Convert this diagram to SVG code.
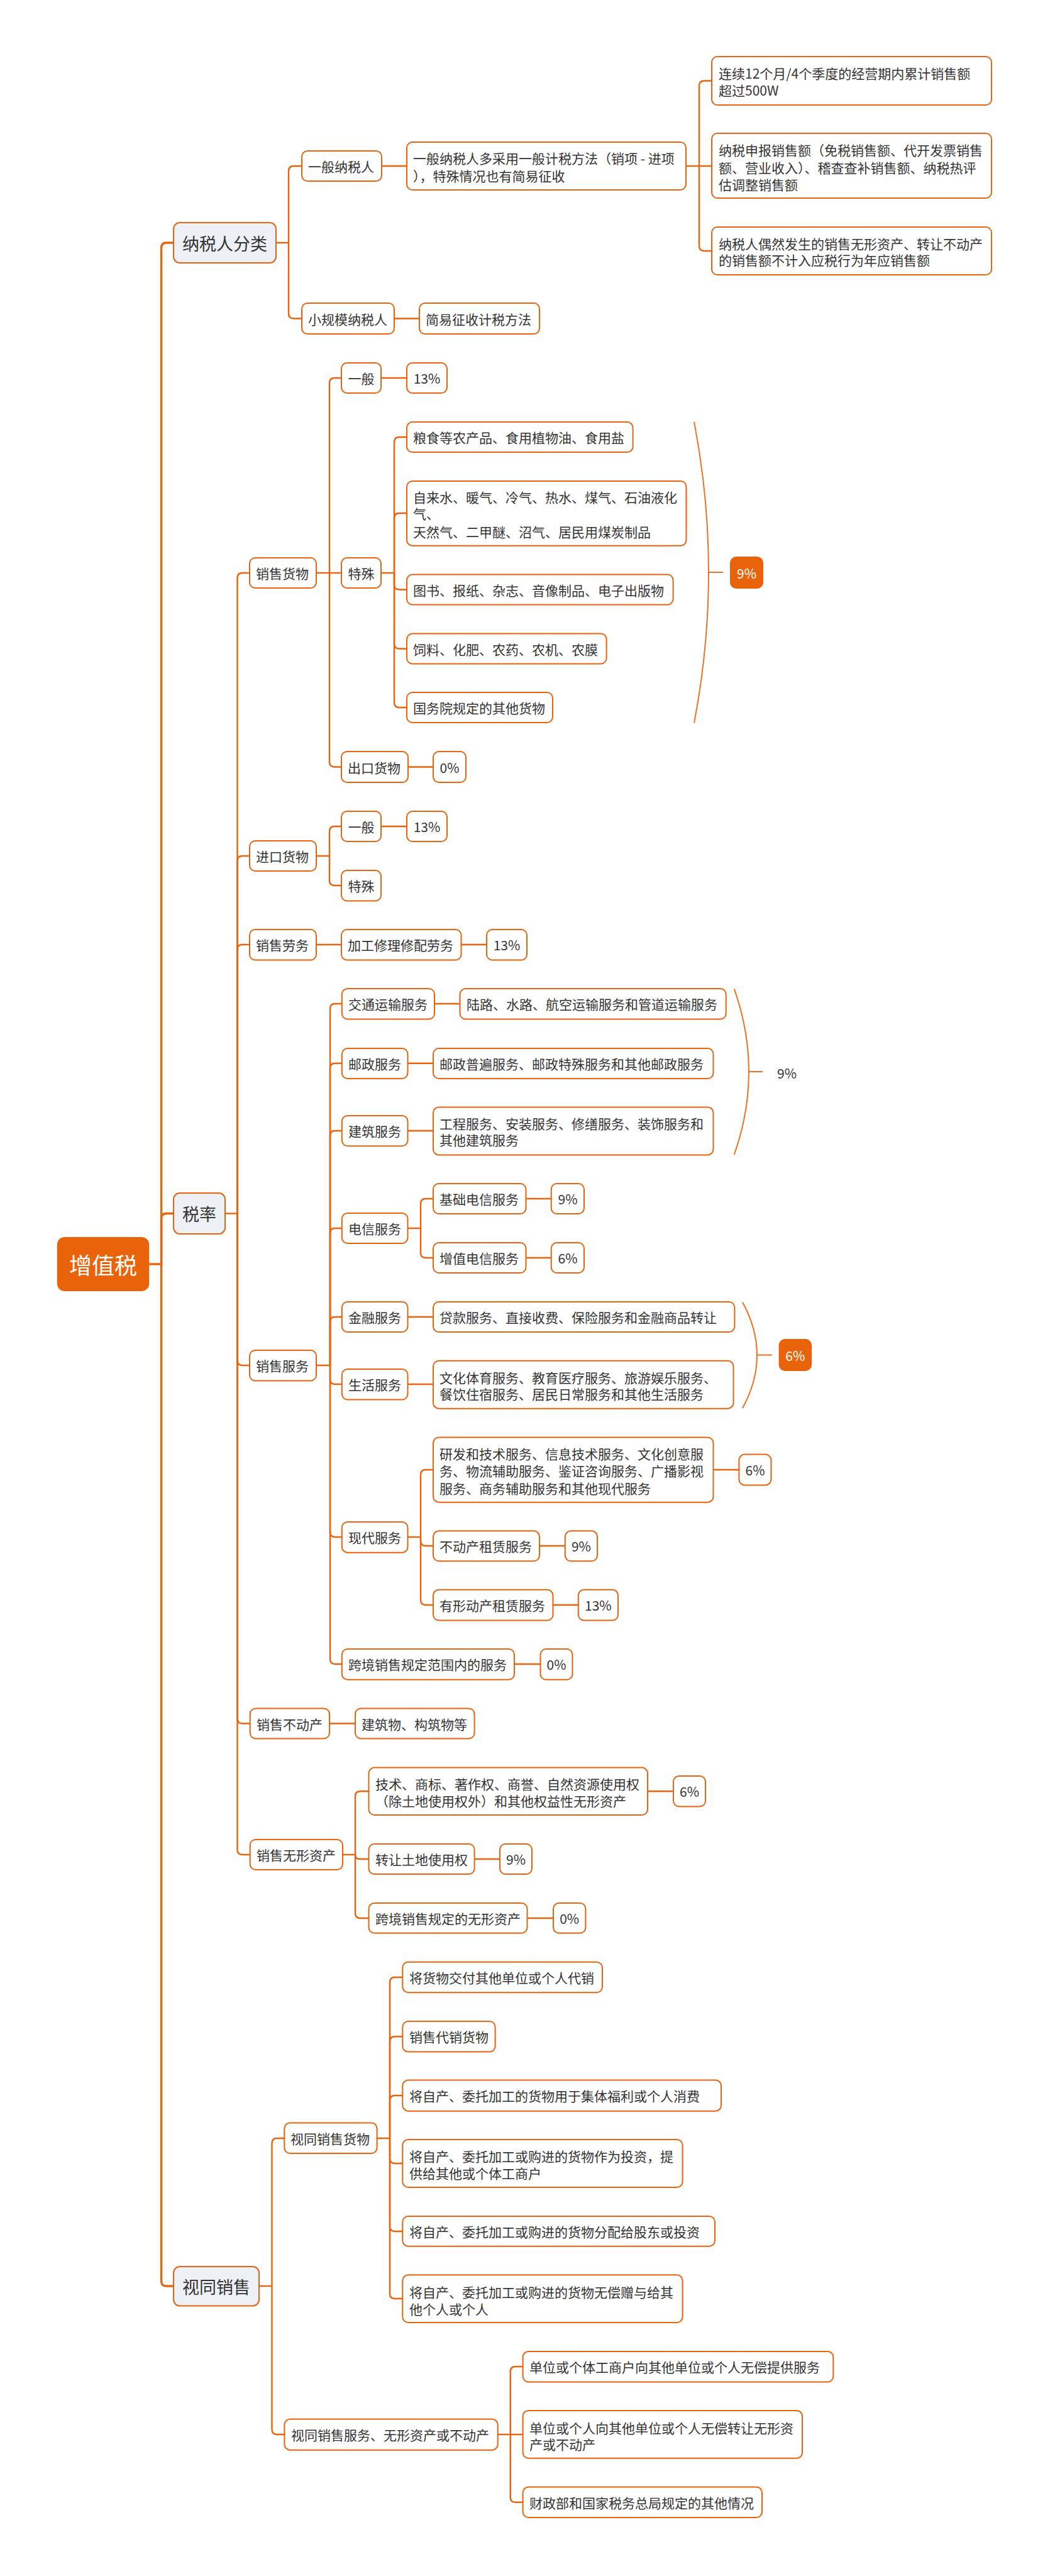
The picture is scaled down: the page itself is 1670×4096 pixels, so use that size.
<svg xmlns="http://www.w3.org/2000/svg" width="1670" height="4096" viewBox="0 0 1670 4096">
<style>
text{font-family:"Noto Sans CJK SC","Noto Sans",sans-serif;dominant-baseline:central;fill:#333}
.n{fill:#fff;stroke:#E8630C;stroke-width:2}
.l1{fill:#EDF0F4;stroke:#E8630C;stroke-width:2}
.root{fill:#E8630A;stroke:none}
.acc{fill:#E8630A;stroke:#E8630A;stroke-width:2}
.t{font-size:21px}
.t1{font-size:27px}
.tr{font-size:36px;fill:#fff}
.tw{font-size:21px;fill:#fff}
.m{text-anchor:middle}
.c path{fill:none;stroke:#E8630C;stroke-width:2.4}
.c path.k{stroke-width:3.4}
.br path{fill:none;stroke:#EC7326;stroke-width:2}
</style>
<rect width="1670" height="4096" fill="#fff"/>
<g class="c" id="connectors">
<path class="k" d="M237.2,2010 H256.6"/>
<path class="k" d="M256.6,2010 V394 Q256.6,386 264.6,386 H276"/>
<path class="k" d="M256.6,2010 V1937.5 Q256.6,1929.5 264.6,1929.5 H276"/>
<path class="k" d="M256.6,2010 V3627 Q256.6,3635 264.6,3635 H276"/>
<path d="M439,386 H459"/>
<path d="M459,386 V272 Q459,264 467,264 H480"/>
<path d="M459,386 V498.5 Q459,506.5 467,506.5 H480"/>
<path d="M607,264 H647"/>
<path d="M1091,264 H1112"/>
<path d="M1112,264 V136.5 Q1112,128.5 1120,128.5 H1132"/>
<path d="M1112,264 H1132"/>
<path d="M1112,264 V391 Q1112,399 1120,399 H1132"/>
<path d="M627,506.5 H667"/>
<path d="M358,1929.5 H377.5"/>
<path d="M377.5,1929.5 V919 Q377.5,911 385.5,911 H397"/>
<path d="M377.5,1929.5 V1369 Q377.5,1361 385.5,1361 H397"/>
<path d="M377.5,1929.5 V1510 Q377.5,1502 385.5,1502 H397"/>
<path d="M377.5,1929.5 V2163 Q377.5,2171 385.5,2171 H397"/>
<path d="M377.5,1929.5 V2732.5 Q377.5,2740.5 385.5,2740.5 H397.7"/>
<path d="M377.5,1929.5 V2941 Q377.5,2949 385.5,2949 H397.7"/>
<path d="M503,911 H524"/>
<path d="M524,911 V609 Q524,601 532,601 H543"/>
<path d="M524,911 H543"/>
<path d="M524,911 V1211.5 Q524,1219.5 532,1219.5 H543"/>
<path d="M606,601 H647"/>
<path d="M606,911 H627"/>
<path d="M627,911 V703 Q627,695 635,695 H647"/>
<path d="M627,911 V824 Q627,816 635,816 H647"/>
<path d="M627,911 V929.5 Q627,937.5 635,937.5 H647"/>
<path d="M627,911 V1023.5 Q627,1031.5 635,1031.5 H647"/>
<path d="M627,911 V1117 Q627,1125 635,1125 H647"/>
<path d="M649,1219.5 H689"/>
<path d="M503,1361 H524"/>
<path d="M524,1361 V1322 Q524,1314 532,1314 H543"/>
<path d="M524,1361 V1400 Q524,1408 532,1408 H543"/>
<path d="M606,1314 H647"/>
<path d="M503,1502 H543"/>
<path d="M733.5,1502 H774"/>
<path d="M503,2171 H525"/>
<path d="M525,2171 V1604 Q525,1596 533,1596 H543.8"/>
<path d="M525,2171 V1698.7 Q525,1690.7 533,1690.7 H543.8"/>
<path d="M525,2171 V1806 Q525,1798 533,1798 H543.8"/>
<path d="M525,2171 V1961 Q525,1953 533,1953 H543.8"/>
<path d="M525,2171 V2102 Q525,2094 533,2094 H543.8"/>
<path d="M525,2171 V2193 Q525,2201 533,2201 H543.8"/>
<path d="M525,2171 V2436 Q525,2444 533,2444 H543.8"/>
<path d="M525,2171 V2638 Q525,2646 533,2646 H543.8"/>
<path d="M691,1596 H731.5"/>
<path d="M648.5,1690.7 H689"/>
<path d="M648.5,1798 H689"/>
<path d="M648.5,1953 H669"/>
<path d="M669,1953 V1914 Q669,1906 677,1906 H689"/>
<path d="M669,1953 V1992 Q669,2000 677,2000 H689"/>
<path d="M836.5,1906 H876.7"/>
<path d="M836.5,2000 H876.7"/>
<path d="M648.5,2094 H689"/>
<path d="M648.5,2201 H689"/>
<path d="M648.5,2444 H669"/>
<path d="M669,2444 V2345 Q669,2337 677,2337 H689"/>
<path d="M669,2444 V2450 Q669,2458 677,2458 H689"/>
<path d="M669,2444 V2544 Q669,2552 677,2552 H689"/>
<path d="M1134.5,2337 H1175.4"/>
<path d="M858,2458 H898.8"/>
<path d="M879.5,2552 H919.8"/>
<path d="M818,2646 H859.5"/>
<path d="M524,2740.5 H565"/>
<path d="M545,2949 H565"/>
<path d="M565,2949 V2856.3 Q565,2848.3 573,2848.3 H586.5"/>
<path d="M565,2949 Q565,2956 572,2956 H586.5"/>
<path d="M565,2949 V3042 Q565,3050 573,3050 H586.5"/>
<path d="M1030,2848.3 H1071"/>
<path d="M754.6,2956 H795"/>
<path d="M838.5,3050 H880"/>
<path d="M412,3635 H432.5"/>
<path d="M432.5,3635 V3408 Q432.5,3400 440.5,3400 H452.3"/>
<path d="M432.5,3635 V3863 Q432.5,3871 440.5,3871 H452.4"/>
<path d="M599.6,3400 H620"/>
<path d="M620,3400 V3152 Q620,3144 628,3144 H640.3"/>
<path d="M620,3400 V3246.3 Q620,3238.3 628,3238.3 H640.3"/>
<path d="M620,3400 V3340 Q620,3332 628,3332 H640.3"/>
<path d="M620,3400 V3432 Q620,3440 628,3440 H640.3"/>
<path d="M620,3400 V3540 Q620,3548 628,3548 H640.3"/>
<path d="M620,3400 V3647 Q620,3655 628,3655 H640.3"/>
<path d="M791.7,3871 H811.7"/>
<path d="M811.7,3871 V3771 Q811.7,3763 819.7,3763 H831.6"/>
<path d="M811.7,3871 H831.6"/>
<path d="M811.7,3871 V3970.7 Q811.7,3978.7 819.7,3978.7 H831.6"/>
</g>
<g class="br" id="brackets">
<path d="M1104,670.6 Q1150,910 1104,1149.5"/>
<path d="M1127,910 H1150"/>
<path d="M1167.7,1572.4 Q1214.3,1704 1167.7,1835.8"/>
<path d="M1191,1704 H1213"/>
<path d="M1181,2070.8 Q1227,2155 1181,2239"/>
<path d="M1204,2154.5 H1227.7"/>
</g>
<g id="root"><rect class="root" x="90.8" y="1967" width="146.4" height="86" rx="12"/><text class="tr m" x="164" y="2010">增值税</text></g>
<g id="n-nsrfl"><rect class="l1" x="276" y="354" width="163" height="64" rx="10"/><text class="t1" x="290" y="386">纳税人分类</text></g>
<g id="n-sl"><rect class="l1" x="276" y="1897" width="82" height="65" rx="10"/><text class="t1 m" x="317" y="1929.5">税率</text></g>
<g id="n-stxs"><rect class="l1" x="276" y="3604" width="136" height="62.5" rx="10"/><text class="t1 m" x="344" y="3635">视同销售</text></g>
<g id="n-ybnsr"><rect class="n" x="480" y="240" width="127" height="48" rx="9"/><text class="t" x="490" y="264">一般纳税人</text></g>
<g id="n-ybdesc"><rect class="n" x="647" y="226" width="444" height="76" rx="9"/><text class="t" x="657" y="251">一般纳税人多采用一般计税方法（销项 - 进项</text><text class="t" x="657" y="279">），特殊情况也有简易征收</text></g>
<g id="n-a"><rect class="n" x="1132" y="90" width="445" height="77" rx="9"/><text class="t" x="1143" y="116">连续12个月/4个季度的经营期内累计销售额</text><text class="t" x="1143" y="143">超过500W</text></g>
<g id="n-b"><rect class="n" x="1132" y="212" width="445" height="103" rx="9"/><text class="t" x="1143" y="238">纳税申报销售额（免税销售额、代开发票销售</text><text class="t" x="1143" y="265.5">额、营业收入）、稽查查补销售额、纳税热评</text><text class="t" x="1143" y="293">估调整销售额</text></g>
<g id="n-c"><rect class="n" x="1132" y="361" width="445" height="76" rx="9"/><text class="t" x="1143" y="387">纳税人偶然发生的销售无形资产、转让不动产</text><text class="t" x="1143" y="413">的销售额不计入应税行为年应销售额</text></g>
<g id="n-xgm"><rect class="n" x="480" y="482" width="147" height="49" rx="9"/><text class="t" x="490" y="506.5">小规模纳税人</text></g>
<g id="n-jyzs"><rect class="n" x="667" y="482" width="191" height="49" rx="9"/><text class="t" x="677" y="506.5">简易征收计税方法</text></g>
<g id="n-xshw"><rect class="n" x="397" y="887" width="106" height="48" rx="9"/><text class="t" x="407" y="911">销售货物</text></g>
<g id="n-hw-yb"><rect class="n" x="543" y="577" width="63" height="48" rx="9"/><text class="t m" x="574.5" y="601">一般</text></g>
<g id="n-hw-yb-r"><rect class="n" x="647" y="577" width="64" height="48" rx="9"/><text class="t m" x="679" y="601">13%</text></g>
<g id="n-hw-ts"><rect class="n" x="543" y="887" width="63" height="48" rx="9"/><text class="t m" x="574.5" y="911">特殊</text></g>
<g id="n-ts1"><rect class="n" x="647" y="671" width="359.6" height="48" rx="9"/><text class="t" x="657" y="695">粮食等农产品、食用植物油、食用盐</text></g>
<g id="n-ts2"><rect class="n" x="647" y="765" width="444.5" height="102.7" rx="9"/><text class="t" x="657" y="790">自来水、暖气、冷气、热水、煤气、石油液化</text><text class="t" x="657" y="816">气、</text><text class="t" x="657" y="844.6">天然气、二甲醚、沼气、居民用煤炭制品</text></g>
<g id="n-ts3"><rect class="n" x="647" y="913.5" width="423.6" height="48" rx="9"/><text class="t" x="657" y="937.5">图书、报纸、杂志、音像制品、电子出版物</text></g>
<g id="n-ts4"><rect class="n" x="647" y="1007.5" width="317.6" height="48" rx="9"/><text class="t" x="657" y="1031.5">饲料、化肥、农药、农机、农膜</text></g>
<g id="n-ts5"><rect class="n" x="647" y="1101" width="232" height="48" rx="9"/><text class="t" x="657" y="1125">国务院规定的其他货物</text></g>
<g id="n-r9a"><rect class="acc" x="1162" y="886" width="51" height="49" rx="9"/><text class="tw m" x="1187.5" y="910.5">9%</text></g>
<g id="n-ckhw"><rect class="n" x="543" y="1195" width="106" height="49" rx="9"/><text class="t" x="553" y="1219.5">出口货物</text></g>
<g id="n-ckhw-r"><rect class="n" x="689" y="1195" width="52" height="49" rx="9"/><text class="t m" x="715" y="1219.5">0%</text></g>
<g id="n-jkhw"><rect class="n" x="397" y="1337" width="106" height="48" rx="9"/><text class="t" x="407" y="1361">进口货物</text></g>
<g id="n-jk-yb"><rect class="n" x="543" y="1290" width="63" height="48" rx="9"/><text class="t m" x="574.5" y="1314">一般</text></g>
<g id="n-jk-yb-r"><rect class="n" x="647" y="1290" width="64" height="48" rx="9"/><text class="t m" x="679" y="1314">13%</text></g>
<g id="n-jk-ts"><rect class="n" x="543" y="1384" width="63" height="48.5" rx="9"/><text class="t m" x="574.5" y="1408">特殊</text></g>
<g id="n-xslw"><rect class="n" x="397" y="1478" width="106" height="48.5" rx="9"/><text class="t" x="407" y="1502">销售劳务</text></g>
<g id="n-jgxl"><rect class="n" x="543" y="1478" width="190.5" height="48.5" rx="9"/><text class="t" x="553" y="1502">加工修理修配劳务</text></g>
<g id="n-jgxl-r"><rect class="n" x="774" y="1478" width="64" height="48.5" rx="9"/><text class="t m" x="806" y="1502">13%</text></g>
<g id="n-xsfw"><rect class="n" x="397" y="2147" width="106" height="48.5" rx="9"/><text class="t" x="407" y="2171">销售服务</text></g>
<g id="n-jtys"><rect class="n" x="543.8" y="1572" width="147.2" height="48.5" rx="9"/><text class="t" x="554" y="1596">交通运输服务</text></g>
<g id="n-jtys-d"><rect class="n" x="731.5" y="1572" width="423.2" height="48.5" rx="9"/><text class="t" x="742" y="1596">陆路、水路、航空运输服务和管道运输服务</text></g>
<g id="n-yz"><rect class="n" x="543.8" y="1667" width="104.7" height="48" rx="9"/><text class="t" x="554" y="1690.7">邮政服务</text></g>
<g id="n-yz-d"><rect class="n" x="689" y="1667" width="445.5" height="48" rx="9"/><text class="t" x="699" y="1690.7">邮政普遍服务、邮政特殊服务和其他邮政服务</text></g>
<g id="n-jz"><rect class="n" x="543.8" y="1774" width="104.7" height="48.3" rx="9"/><text class="t" x="554" y="1798">建筑服务</text></g>
<g id="n-jz-d"><rect class="n" x="689" y="1760.4" width="445.5" height="76" rx="9"/><text class="t" x="699" y="1786">工程服务、安装服务、修缮服务、装饰服务和</text><text class="t" x="699" y="1812">其他建筑服务</text></g>
<g id="n-r9b"><text class="t" x="1236" y="1705.5">9%</text></g>
<g id="n-dx"><rect class="n" x="543.8" y="1929" width="104.7" height="48" rx="9"/><text class="t" x="554" y="1953">电信服务</text></g>
<g id="n-jcdx"><rect class="n" x="689" y="1882" width="147.5" height="48" rx="9"/><text class="t" x="699" y="1906">基础电信服务</text></g>
<g id="n-jcdx-r"><rect class="n" x="876.7" y="1882" width="52.3" height="48" rx="9"/><text class="t m" x="903" y="1906">9%</text></g>
<g id="n-zzdx"><rect class="n" x="689" y="1976" width="147.5" height="48" rx="9"/><text class="t" x="699" y="2000">增值电信服务</text></g>
<g id="n-zzdx-r"><rect class="n" x="876.7" y="1976" width="52.3" height="48" rx="9"/><text class="t m" x="903" y="2000">6%</text></g>
<g id="n-jr"><rect class="n" x="543.8" y="2070" width="104.7" height="48" rx="9"/><text class="t" x="554" y="2094">金融服务</text></g>
<g id="n-jr-d"><rect class="n" x="689" y="2070" width="479.4" height="48" rx="9"/><text class="t" x="699" y="2094">贷款服务、直接收费、保险服务和金融商品转让</text></g>
<g id="n-sh"><rect class="n" x="543.8" y="2177" width="104.7" height="48.5" rx="9"/><text class="t" x="554" y="2201">生活服务</text></g>
<g id="n-sh-d"><rect class="n" x="689" y="2163.7" width="477.5" height="76" rx="9"/><text class="t" x="699" y="2190">文化体育服务、教育医疗服务、旅游娱乐服务、</text><text class="t" x="699" y="2216">餐饮住宿服务、居民日常服务和其他生活服务</text></g>
<g id="n-r6a"><rect class="acc" x="1239.6" y="2130" width="50.4" height="49" rx="9"/><text class="tw m" x="1264.8" y="2154.5">6%</text></g>
<g id="n-xd"><rect class="n" x="543.8" y="2420" width="104.7" height="48.7" rx="9"/><text class="t" x="554" y="2444">现代服务</text></g>
<g id="n-yf"><rect class="n" x="689" y="2285.5" width="445.5" height="103.2" rx="9"/><text class="t" x="699" y="2310.7">研发和技术服务、信息技术服务、文化创意服</text><text class="t" x="699" y="2338">务、物流辅助服务、鉴证咨询服务、广播影视</text><text class="t" x="699" y="2365.5">服务、商务辅助服务和其他现代服务</text></g>
<g id="n-yf-r"><rect class="n" x="1175.4" y="2312.6" width="51" height="48.8" rx="9"/><text class="t m" x="1201" y="2337">6%</text></g>
<g id="n-bdczl"><rect class="n" x="689" y="2434.3" width="169" height="48" rx="9"/><text class="t" x="699" y="2458">不动产租赁服务</text></g>
<g id="n-bdczl-r"><rect class="n" x="898.8" y="2434.3" width="51.2" height="48" rx="9"/><text class="t m" x="924.4" y="2458">9%</text></g>
<g id="n-yxdc"><rect class="n" x="689" y="2527.8" width="190.5" height="48.7" rx="9"/><text class="t" x="699" y="2552">有形动产租赁服务</text></g>
<g id="n-yxdc-r"><rect class="n" x="919.8" y="2527.8" width="63.2" height="48.7" rx="9"/><text class="t m" x="951.4" y="2552">13%</text></g>
<g id="n-kjfw"><rect class="n" x="543.8" y="2622" width="274.2" height="48.8" rx="9"/><text class="t" x="554" y="2646">跨境销售规定范围内的服务</text></g>
<g id="n-kjfw-r"><rect class="n" x="859.5" y="2622" width="51" height="48.8" rx="9"/><text class="t m" x="885" y="2646">0%</text></g>
<g id="n-xsbdc"><rect class="n" x="397.7" y="2716.5" width="126.3" height="48" rx="9"/><text class="t" x="408" y="2740.5">销售不动产</text></g>
<g id="n-jzw"><rect class="n" x="565" y="2716.5" width="189.6" height="48" rx="9"/><text class="t" x="575" y="2740.5">建筑物、构筑物等</text></g>
<g id="n-xswx"><rect class="n" x="397.7" y="2925" width="147.3" height="48" rx="9"/><text class="t" x="408" y="2949">销售无形资产</text></g>
<g id="n-js"><rect class="n" x="586.5" y="2810.6" width="443.5" height="75.4" rx="9"/><text class="t" x="597" y="2836">技术、商标、著作权、商誉、自然资源使用权</text><text class="t" x="597" y="2863">（除土地使用权外）和其他权益性无形资产</text></g>
<g id="n-js-r"><rect class="n" x="1071" y="2824" width="51" height="48.5" rx="9"/><text class="t m" x="1096.5" y="2848.3">6%</text></g>
<g id="n-zrtd"><rect class="n" x="586.5" y="2932" width="168.1" height="48" rx="9"/><text class="t" x="597" y="2956">转让土地使用权</text></g>
<g id="n-zrtd-r"><rect class="n" x="795" y="2932" width="51" height="48" rx="9"/><text class="t m" x="820.5" y="2956">9%</text></g>
<g id="n-kjwx"><rect class="n" x="586.5" y="3026" width="252" height="47.8" rx="9"/><text class="t" x="597" y="3050">跨境销售规定的无形资产</text></g>
<g id="n-kjwx-r"><rect class="n" x="880" y="3026" width="51.4" height="47.8" rx="9"/><text class="t m" x="905.7" y="3050">0%</text></g>
<g id="n-stxshw"><rect class="n" x="452.3" y="3375.4" width="147.3" height="48.6" rx="9"/><text class="t" x="462" y="3400">视同销售货物</text></g>
<g id="n-s1"><rect class="n" x="640.3" y="3119.7" width="317.7" height="48.6" rx="9"/><text class="t" x="651" y="3144">将货物交付其他单位或个人代销</text></g>
<g id="n-s2"><rect class="n" x="640.3" y="3214" width="147.3" height="48.6" rx="9"/><text class="t" x="651" y="3238.3">销售代销货物</text></g>
<g id="n-s3"><rect class="n" x="640.3" y="3307.6" width="506.7" height="49.1" rx="9"/><text class="t" x="651" y="3332">将自产、委托加工的货物用于集体福利或个人消费</text></g>
<g id="n-s4"><rect class="n" x="640.3" y="3402" width="445.3" height="76" rx="9"/><text class="t" x="651" y="3428">将自产、委托加工或购进的货物作为投资，提</text><text class="t" x="651" y="3455">供给其他或个体工商户</text></g>
<g id="n-s5"><rect class="n" x="640.3" y="3524" width="496.7" height="47.7" rx="9"/><text class="t" x="651" y="3548">将自产、委托加工或购进的货物分配给股东或投资</text></g>
<g id="n-s6"><rect class="n" x="640.3" y="3617.3" width="445.3" height="75.7" rx="9"/><text class="t" x="651" y="3644">将自产、委托加工或购进的货物无偿赠与给其</text><text class="t" x="651" y="3671">他个人或个人</text></g>
<g id="n-stxsfw"><rect class="n" x="452.4" y="3846.6" width="339.3" height="49.1" rx="9"/><text class="t" x="463" y="3871">视同销售服务、无形资产或不动产</text></g>
<g id="n-f1"><rect class="n" x="831.6" y="3738.9" width="493.7" height="48.6" rx="9"/><text class="t" x="842" y="3763">单位或个体工商户向其他单位或个人无偿提供服务</text></g>
<g id="n-f2"><rect class="n" x="831.6" y="3832.9" width="444.4" height="75.9" rx="9"/><text class="t" x="842" y="3859.5">单位或个人向其他单位或个人无偿转让无形资</text><text class="t" x="842" y="3886">产或不动产</text></g>
<g id="n-f3"><rect class="n" x="831.6" y="3954.4" width="380.4" height="48.6" rx="9"/><text class="t" x="842" y="3978.7">财政部和国家税务总局规定的其他情况</text></g>
</svg>
